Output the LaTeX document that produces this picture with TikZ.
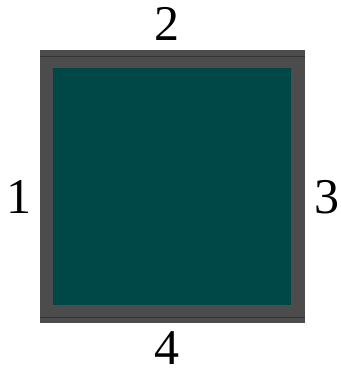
\documentclass[tikz,border=0pt]{standalone}
\usepackage{fontspec}
\setmainfont{Liberation Serif}
\definecolor{frame}{RGB}{76,76,76}
\definecolor{teal}{RGB}{0,72,72}
\begin{document}
\begin{tikzpicture}[x=1pt,y=1pt,
  lbl/.style={inner sep=0pt,font=\fontsize{50}{50}\selectfont}]
\useasboundingbox (0,0) rectangle (340,371);
\fill[frame] (40,{371-323}) rectangle (305,{371-50});
\fill[black!60!frame,opacity=0.5] (40,{371-56}) rectangle (305,{371-57});
\fill[black!60!frame,opacity=0.5] (40,{371-317}) rectangle (305,{371-318});
\fill[teal] (53,{371-305}) rectangle (291,{371-68});
\node[lbl] (t) at (167,{371-24}) {2};
\node[lbl] (l) at (19,{371-197}) {1};
\node[lbl] (r) at (327,{371-197}) {3};
\node[lbl] (b) at (167,{371-348}) {4};
\end{tikzpicture}
\end{document}
